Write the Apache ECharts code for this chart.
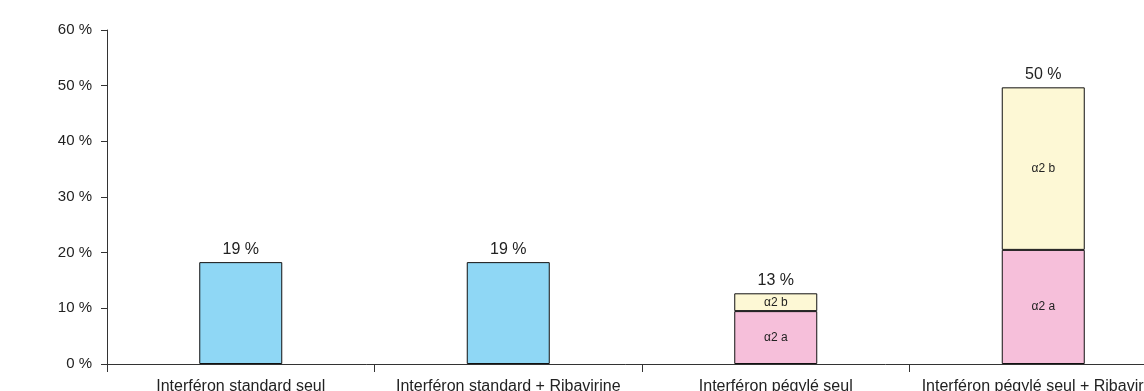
<!DOCTYPE html>
<html>
<head>
<meta charset="utf-8">
<script src="https://cdn.jsdelivr.net/npm/echarts@6/dist/echarts.min.js"></script>
<style>
  html, body { margin: 0; padding: 0; background: #fff; }
</style>
</head>
<body>
<!-- conteneur du graphique -->
<div id="chart" style="width: 1144px; height: 391px"></div>
<script>
// catégories de traitement
var categories = [
  "Interféron standard seul",
  "Interféron standard + Ribavirine",
  "Interféron pégylé seul",
  "Interféron pégylé seul + Ribavirine"
];
// valeurs (%)
var standardValues = [18.3, 18.3, "-", "-"];
var alpha2aValues = ["-", "-", 9.5, 20.5];
var alpha2bValues = ["-", "-", 3.2, 29.2];
// étiquettes au-dessus des barres
var topLabels = ["19 %", "19 %", "13 %", "50 %"];
var totalBase = [0, 0, 0, 0];

var chart = echarts.init(document.getElementById("chart"));
var font = "'Liberation Sans', Arial, Helvetica, sans-serif";
var narrow = "'Liberation Sans Narrow', 'Liberation Sans', Arial, sans-serif";

chart.setOption({
  animation: false,
  textStyle: { fontFamily: font },
  // la grille dépasse à droite et en bas : le graphique d'origine est coupé
  grid: {
    left: 107,
    width: 1070,
    top: 30,
    bottom: 27,
    containLabel: false,
    outerBoundsMode: "none"
  },
  xAxis: {
    type: "category",
    data: categories,
    axisLine: { lineStyle: { color: "#333", width: 1 } },
    axisTick: { show: true, length: 8, lineStyle: { color: "#333" } },
    axisLabel: {
      color: "#222",
      fontSize: 16,
      lineHeight: 16,
      margin: 15,
      fontFamily: font,
      interval: 0
    }
  },
  yAxis: {
    type: "value",
    min: 0,
    max: 60,
    interval: 10,
    axisLine: { show: true, lineStyle: { color: "#333", width: 1 } },
    axisTick: { show: true, length: 6, lineStyle: { color: "#333" } },
    axisLabel: {
      formatter: "{value} %",
      color: "#222",
      fontSize: 15,
      margin: 15,
      fontFamily: font
    },
    splitLine: { show: false }
  },
  series: [
    {
      name: "standard",
      type: "bar",
      stack: "total",
      barWidth: 83,
      data: standardValues,
      itemStyle: { color: "#8fd7f5", borderColor: "#111", borderWidth: 1 }
    },
    {
      name: "α2 a",
      type: "bar",
      stack: "total",
      data: alpha2aValues,
      itemStyle: { color: "#f6bfda", borderColor: "#111", borderWidth: 1 },
      label: {
        show: true,
        position: "inside",
        formatter: "α2 a",
        color: "#222",
        fontSize: 12,
        fontFamily: narrow
      }
    },
    {
      name: "α2 b",
      type: "bar",
      stack: "total",
      data: alpha2bValues,
      itemStyle: { color: "#fdf8d5", borderColor: "#111", borderWidth: 1 },
      label: {
        show: true,
        position: "inside",
        formatter: "α2 b",
        color: "#222",
        fontSize: 12,
        fontFamily: narrow
      }
    },
    {
      // série invisible pour les totaux
      name: "totaux",
      type: "bar",
      stack: "total",
      data: totalBase,
      itemStyle: { color: "transparent", borderWidth: 0 },
      label: {
        show: true,
        position: "top",
        distance: 5,
        color: "#222",
        fontSize: 16,
        fontFamily: font,
        formatter: function (p) {
          return topLabels[p.dataIndex];
        }
      }
    }
  ]
});
</script>
</body>
</html>
